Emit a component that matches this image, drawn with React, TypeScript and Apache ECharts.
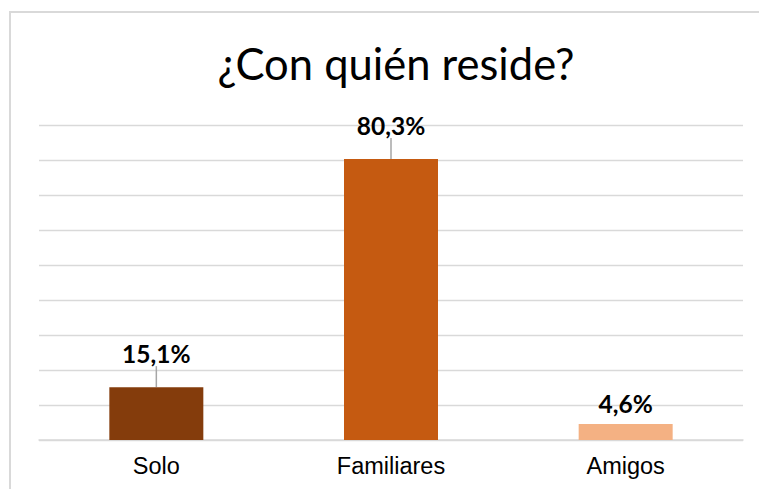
import React, { useEffect, useRef } from "react";
import * as echarts from "echarts";

const categories = ["Solo", "Familiares", "Amigos"];
const values = [15.1, 80.3, 4.6];
const barColors = ["#843C0C", "#C55A11", "#F4B183"];
const titleText = "¿Con quién reside?";

export default function App() {
  const ref = useRef<HTMLDivElement>(null);
  useEffect(() => {
    if (!ref.current) return;
    const chart = echarts.init(ref.current, null, { renderer: "svg" });
    chart.setOption({
      animation: false,
      backgroundColor: "#ffffff",
      title: {
        text: titleText,
        left: 391,
        top: 36,
        textAlign: "center",
        textStyle: {
          fontFamily: "Lato",
          fontWeight: "normal",
          fontSize: 43.5,
          color: "#000000",
        },
      },
      graphic: [
        {
          type: "rect",
          shape: { x: 10, y: 12, width: 800, height: 520 },
          style: { fill: "none", stroke: "#D9D9D9", lineWidth: 2 },
          silent: true,
        },
      ],
      grid: { left: 39, right: 16, top: 125, bottom: 49 },
      xAxis: {
        type: "category",
        data: categories,
        axisTick: { show: false },
        axisLine: { lineStyle: { color: "#D9D9D9", width: 1.5 } },
        axisLabel: {
          fontFamily: "Liberation Sans",
          fontSize: 23.5,
          color: "#000000",
          margin: 14,
        },
      },
      yAxis: {
        type: "value",
        min: 0,
        max: 90,
        interval: 10,
        axisLabel: { show: false },
        axisLine: { show: false },
        axisTick: { show: false },
        splitLine: { lineStyle: { color: "#D9D9D9", width: 1.3 } },
      },
      series: [
        {
          type: "bar",
          barWidth: 94,
          data: values.map((v, i) => {
            const lifted = v > 10;
            return {
              value: v,
              itemStyle: { color: barColors[i] },
              label: lifted
                ? { padding: [0, 0, 8, 0], distance: 5 }
                : { padding: 0, distance: 8 },
              labelLine: { show: lifted },
            };
          }),
          label: {
            show: true,
            position: "top",
            fontFamily: "Lato",
            fontWeight: "bold",
            fontSize: 24.5,
            color: "#000000",
            formatter: (p: any) => p.value.toFixed(1).replace(".", ",") + "%",
          },
          labelLine: {
            show: true,
            lineStyle: { color: "#A6A6A6", width: 1.5 },
          },
          labelLayout: (p: any) => {
            const v = values[p.dataIndex];
            return v > 10 ? { dy: -8 } : { dy: 0 };
          },
        },
      ],
    });
    return () => chart.dispose();
  }, []);
  return (
    <div
      ref={ref}
      style={{ position: "fixed", left: 0, top: 0, width: 759, height: 489 }}
    />
  );
}
